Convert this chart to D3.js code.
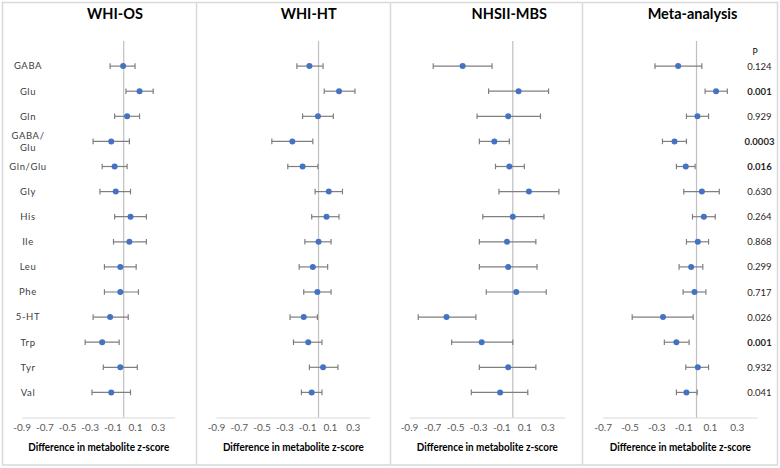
<!DOCTYPE html>
<html><head><meta charset="utf-8">
<script src="https://cdn.jsdelivr.net/npm/d3@7"></script>
<style>body{margin:0;background:#fff}svg{display:block;font-family:Lato,"Open Sans",sans-serif}</style>
</head><body><svg id="c" width="780" height="468"></svg>
<script>
const metabolites = ["GABA","Glu","Gln","GABA/\nGlu","Gln/Glu","Gly","His","Ile","Leu","Phe","5-HT","Trp","Tyr","Val"];
const studies = ["WHI-OS","WHI-HT","NHSII-MBS","Meta-analysis"];

const whiosEst = [-0.005,0.14,0.03,-0.11,-0.08,-0.07,0.06,0.05,-0.03,-0.03,-0.12,-0.19,-0.03,-0.11];
const whiosLo  = [-0.12,0.02,-0.08,-0.27,-0.19,-0.21,-0.08,-0.09,-0.17,-0.17,-0.27,-0.34,-0.18,-0.28];
const whiosHi  = [0.10,0.26,0.14,0.05,0.03,0.06,0.20,0.20,0.11,0.13,0.04,-0.04,0.12,0.06];

const whihtEst = [-0.08,0.18,-0.005,-0.23,-0.14,0.09,0.07,0.00,-0.05,-0.01,-0.13,-0.09,0.04,-0.06];
const whihtLo  = [-0.19,0.05,-0.14,-0.41,-0.27,-0.03,-0.06,-0.12,-0.17,-0.13,-0.25,-0.22,-0.08,-0.15];
const whihtHi  = [0.04,0.32,0.13,-0.05,-0.005,0.21,0.18,0.11,0.08,0.11,-0.01,0.03,0.17,0.03];

const nhsEst = [-0.435,0.05,-0.04,-0.16,-0.03,0.14,0.00,-0.05,-0.04,0.03,-0.575,-0.27,-0.04,-0.11];
const nhsLo  = [-0.69,-0.21,-0.31,-0.29,-0.15,-0.12,-0.26,-0.29,-0.29,-0.23,-0.82,-0.53,-0.29,-0.36];
const nhsHi  = [-0.18,0.31,0.24,-0.03,0.10,0.40,0.27,0.20,0.21,0.29,-0.32,0.00,0.20,0.13];

const metaEst = [-0.137,0.146,0.007,-0.164,-0.08,0.04,0.055,0.01,-0.04,-0.015,-0.25,-0.15,0.01,-0.075];
const metaLo  = [-0.31,0.064,-0.075,-0.254,-0.15,-0.095,-0.03,-0.075,-0.13,-0.10,-0.48,-0.24,-0.08,-0.15];
const metaHi  = [0.04,0.23,0.09,-0.075,-0.01,0.17,0.14,0.09,0.047,0.07,-0.025,-0.055,0.09,0.005];

const pValues = ["0.124","0.001","0.929","0.0003","0.016","0.630","0.264","0.868","0.299","0.717","0.026","0.001","0.932","0.041"];
const pBold   = [false,true,false,true,true,false,false,false,false,false,false,true,false,false];

const ticksWide = [-0.9,-0.7,-0.5,-0.3,-0.1,0.1,0.3];
const ticksMeta = [-0.7,-0.5,-0.3,-0.1,0.1,0.3];
const axisTitle = "Difference in metabolite z-score";

const panelData = [
  {est: whiosEst, lo: whiosLo, hi: whiosHi, dom: [-0.9,0.45], rng: [21.7,174.7], ticks: ticksWide, tx: 115},
  {est: whihtEst, lo: whihtLo, hi: whihtHi, dom: [-0.9,0.45], rng: [216,369.8], ticks: ticksWide, tx: 308.7},
  {est: nhsEst, lo: nhsLo, hi: nhsHi, dom: [-0.9,0.45], rng: [409,564.7], ticks: ticksWide, tx: 509.3},
  {est: metaEst, lo: metaLo, hi: metaHi, dom: [-0.7,0.45], rng: [602.7,756.8], ticks: ticksMeta, tx: 692.5}
];

const svg = d3.select("#c");
const border = "#d9d9d9";
svg.append("rect").attr("x",2.5).attr("y",2.5).attr("width",775).attr("height",462.5)
  .attr("fill","none").attr("stroke",border).attr("stroke-width",1.5);
[196.5,390.5,582.5].forEach(x => svg.append("line").attr("x1",x).attr("x2",x).attr("y1",2).attr("y2",465)
  .attr("stroke",border).attr("stroke-width",1.5));

const y = d3.scaleLinear().domain([0,15]).range([41,417.5]);
const blue = "#4472C4", barCol = "#7f7f7f";

panelData.forEach((p,pi) => {
  const g = svg.append("g");
  const x = d3.scaleLinear().domain(p.dom).range(p.rng);
  g.append("text").attr("x",p.tx).attr("y",18.5).attr("text-anchor","middle")
    .attr("font-size",14.5).attr("font-weight","bold").attr("fill","#000").text(studies[pi]);
  const ax = d3.axisBottom(x).tickValues(p.ticks).tickSize(0).tickPadding(6)
    .tickFormat(d => d.toFixed(1));
  const axg = g.append("g").attr("transform",`translate(0,${y(15)})`).call(ax);
  axg.select(".domain").attr("stroke",border).attr("stroke-width",1.2);
  axg.selectAll("text").attr("font-size",10).attr("fill","#595959").attr("font-family","Lato, sans-serif");
  g.append("line").attr("x1",x(0)).attr("x2",x(0)).attr("y1",y(0)).attr("y2",y(15))
    .attr("stroke","#bfbfbf").attr("stroke-width",1.2);
  g.append("text").attr("x",(p.rng[0]+p.rng[1])/2 + 0.5).attr("y",450.5).attr("text-anchor","middle")
    .attr("font-size",11).attr("font-weight","bold").attr("fill","#000")
    .attr("textLength",141).attr("lengthAdjust","spacingAndGlyphs").text(axisTitle);
  const rows = metabolites.map((m,i) => ({i, est:p.est[i], lo:p.lo[i], hi:p.hi[i]}));
  const eb = g.selectAll(".eb").data(rows).enter().append("g");
  eb.append("line").attr("x1",d=>x(d.lo)).attr("x2",d=>x(d.hi)).attr("y1",d=>y(d.i+1)).attr("y2",d=>y(d.i+1))
    .attr("stroke",barCol).attr("stroke-width",1.2);
  eb.append("line").attr("x1",d=>x(d.lo)).attr("x2",d=>x(d.lo)).attr("y1",d=>y(d.i+1)-2.8).attr("y2",d=>y(d.i+1)+2.8)
    .attr("stroke",barCol).attr("stroke-width",1.2);
  eb.append("line").attr("x1",d=>x(d.hi)).attr("x2",d=>x(d.hi)).attr("y1",d=>y(d.i+1)-2.8).attr("y2",d=>y(d.i+1)+2.8)
    .attr("stroke",barCol).attr("stroke-width",1.2);
  eb.append("circle").attr("cx",d=>x(d.est)).attr("cy",d=>y(d.i+1)).attr("r",3).attr("fill",blue);
});

metabolites.forEach((m,i) => {
  const lines = m.split("\n");
  const t = svg.append("text").attr("x",28).attr("text-anchor","middle").attr("font-size",9.5)
    .attr("fill","#404040").attr("letter-spacing",0.6);
  const y0 = y(i+1) + 3.3 - (lines.length-1)*6;
  lines.forEach((l,k) => t.append("tspan").attr("x", 28).attr("y", y0 + k*12).text(l));
});

svg.append("text").attr("x",755).attr("y",55).attr("text-anchor","middle").attr("font-size",8.5)
  .attr("fill","#000").text("P");
pValues.forEach((v,i) => {
  svg.append("text").attr("x",759.5).attr("y",y(i+1)+3.5).attr("text-anchor","middle")
    .attr("font-size",9.5).attr("font-weight",pBold[i]?"bold":"normal").attr("fill","#262626").text(v);
});
</script></body></html>
